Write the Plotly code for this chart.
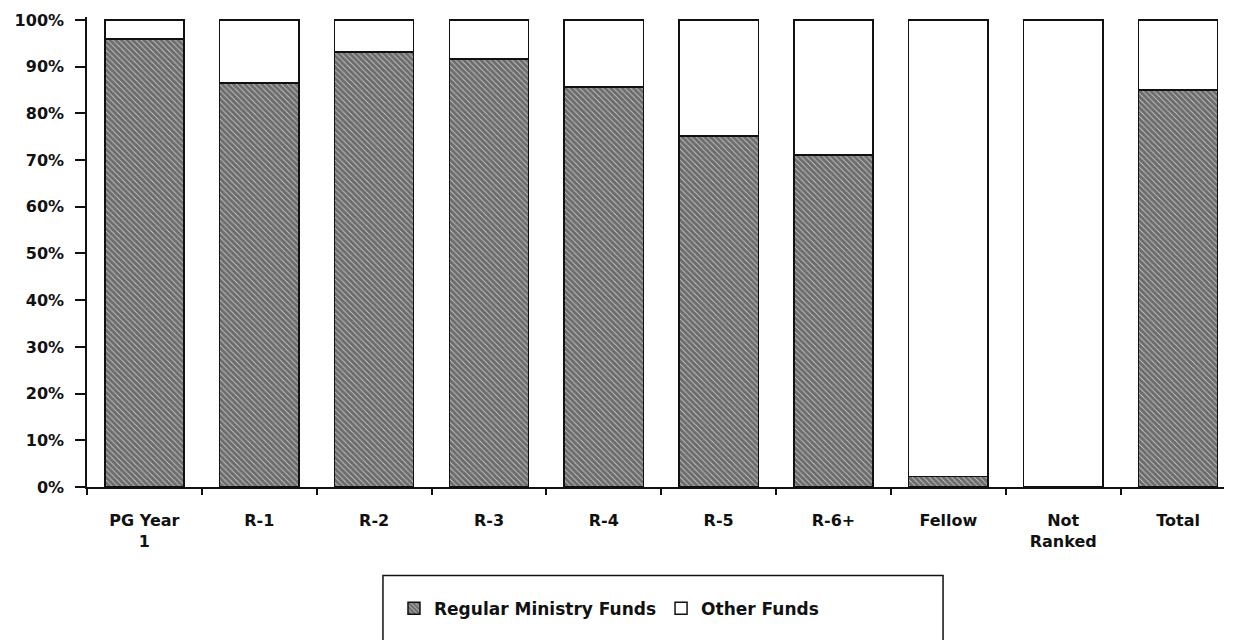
import plotly.graph_objects as go

categories = ["PG Year<br>1", "R-1", "R-2", "R-3", "R-4", "R-5", "R-6+", "Fellow", "Not<br>Ranked", "Total"]
regular_ministry = [0.959, 0.865, 0.931, 0.916, 0.857, 0.752, 0.711, 0.022, 0.0, 0.850]
other_funds = [round(1 - v, 3) for v in regular_ministry]
y_ticks = [i / 10 for i in range(11)]

FONT = dict(family="DejaVu Sans", size=16, color="#111111", weight="bold")
LEGEND_FONT = dict(family="DejaVu Sans", size=17, color="#111111", weight="bold")

fig = go.Figure()
fig.add_trace(go.Bar(
    x=categories, y=regular_ministry, name="Regular Ministry Funds",
    marker=dict(color="white",
                pattern=dict(shape="\\", fgcolor="#000000", bgcolor="#d8d8d8", size=4, solidity=0.8),
                line=dict(color="#111111", width=1.5)),
))
fig.add_trace(go.Bar(
    x=categories, y=other_funds, name="Other Funds",
    marker=dict(color="white", line=dict(color="#111111", width=1.5)),
))

n = len(categories)
x_range = [-0.5, n - 0.6]
y_range = [0, 1.0064]
fig.update_layout(
    width=1233, height=640,
    margin=dict(l=79, r=17, t=9, b=161, autoexpand=False),
    barmode="stack", bargap=0.31,
    plot_bgcolor="white", paper_bgcolor="white",
    font=FONT,
    showlegend=True,
    legend=dict(orientation="h", x=0.270, y=-0.259, xanchor="left", yanchor="middle",
                bgcolor="rgba(0,0,0,0)", borderwidth=0, font=LEGEND_FONT, traceorder="normal"),
    xaxis=dict(type="category", range=x_range, showline=True, linecolor="#111111", linewidth=1.5,
               ticks="outside", tickson="boundaries", ticklen=6, tickwidth=1.5, tickcolor="#111111",
               showgrid=False, zeroline=False, ticklabelstandoff=18, tickfont=FONT, automargin=False),
    yaxis=dict(range=y_range, tickvals=y_ticks, tickformat=".0%", showline=True,
               linecolor="#111111", linewidth=1.5, ticks="outside", ticklen=10, tickwidth=1.5,
               tickcolor="#111111", showgrid=False, zeroline=False, ticklabelstandoff=8,
               tickfont=FONT, automargin=False),
    xaxis2=dict(overlaying="x", anchor="y", range=x_range, tickvals=[i + 0.5 for i in range(n - 1)],
                ticks="inside", ticklen=7, tickwidth=1.5, tickcolor="#111111", showticklabels=False,
                showgrid=False, zeroline=False, showline=False, automargin=False),
    yaxis2=dict(overlaying="y", anchor="x", range=y_range, tickvals=y_ticks,
                ticks="inside", ticklen=4, tickwidth=1.5, tickcolor="#111111", showticklabels=False,
                showgrid=False, zeroline=False, showline=False, automargin=False),
    shapes=[dict(type="rect", xref="paper", yref="paper", x0=0.2603, x1=0.7529, y0=-0.1884, y1=-0.40,
                 line=dict(color="#111111", width=1.5), fillcolor="rgba(0,0,0,0)", layer="below")],
)

fig.write_html("out.html")
